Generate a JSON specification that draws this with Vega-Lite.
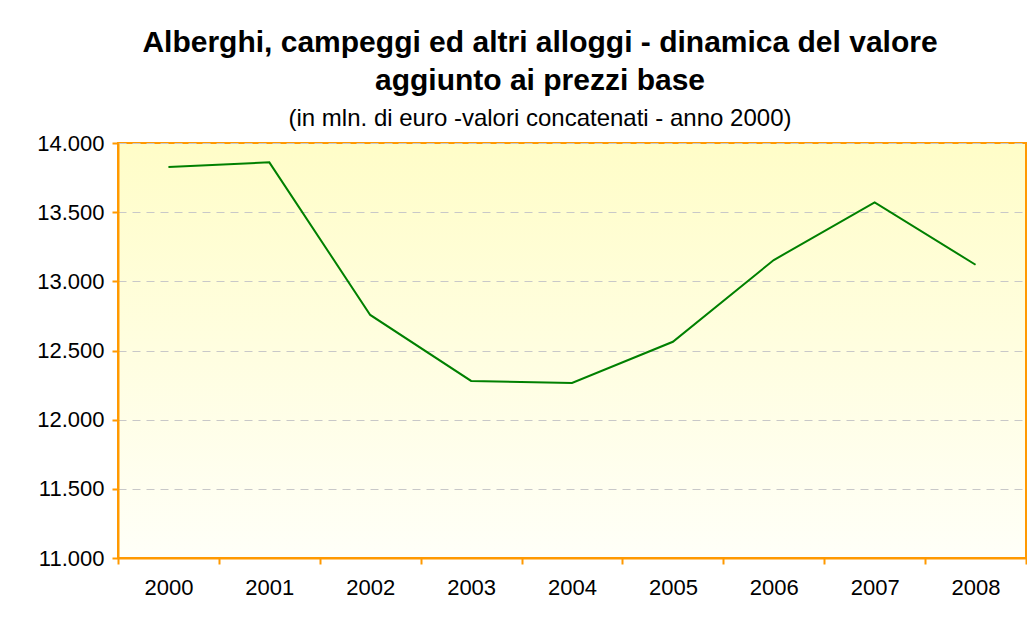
{
  "$schema": "https://vega.github.io/schema/vega-lite/v6.json",
  "autosize": {"type": "none"},
  "width": 908,
  "height": 415,
  "padding": {"left": 118, "top": 143, "right": 1, "bottom": 69},
  "background": "white",
  "config": {
    "locale": {"number": {"decimal": ",", "thousands": ".", "grouping": [3], "currency": ["€", ""]}},
    "view": {
      "fill": {"gradient": "linear", "x1": 0, "y1": 0, "x2": 0, "y2": 1, "stops": [{"offset": 0, "color": "#FFFDC8"}, {"offset": 1, "color": "#FFFFF8"}]},
      "stroke": "#FF9900",
      "strokeWidth": 2
    },
    "font": "Liberation Sans"
  },
  "title": {
    "text": ["Alberghi, campeggi ed altri alloggi  - dinamica del valore", "aggiunto ai prezzi base"],
    "subtitle": "(in mln. di euro -valori concatenati - anno 2000)",
    "anchor": "middle",
    "dx": -32,
    "fontSize": 30,
    "fontWeight": "bold",
    "lineHeight": 38,
    "color": "black",
    "subtitleFontSize": 24,
    "subtitleColor": "black",
    "subtitlePadding": 11,
    "offset": 1
  },
  "data": {
    "values": [
      {"anno": "2000", "valore": 13827},
      {"anno": "2001", "valore": 13860},
      {"anno": "2002", "valore": 12757},
      {"anno": "2003", "valore": 12280},
      {"anno": "2004", "valore": 12265},
      {"anno": "2005", "valore": 12563},
      {"anno": "2006", "valore": 13154},
      {"anno": "2007", "valore": 13570},
      {"anno": "2008", "valore": 13120}
    ]
  },
  "mark": {"type": "line", "color": "#008000", "strokeWidth": 2},
  "encoding": {
    "x": {
      "field": "anno",
      "type": "ordinal",
      "scale": {"type": "band", "paddingInner": 0, "paddingOuter": 0},
      "axis": {
        "title": null,
        "labelAngle": 0,
        "tickBand": "extent",
        "labelFontSize": 22,
        "labelColor": "black",
        "labelPadding": 13,
        "tickSize": 6,
        "tickColor": "#FF9900",
        "tickWidth": 2,
        "domainColor": "#FF9900",
        "domainWidth": 2,
        "grid": false
      }
    },
    "y": {
      "field": "valore",
      "type": "quantitative",
      "scale": {"domain": [11000, 14000], "zero": false},
      "axis": {
        "title": null,
        "values": [11000, 11500, 12000, 12500, 13000, 13500, 14000],
        "format": ",d",
        "labelFontSize": 22,
        "labelColor": "black",
        "labelPadding": 8,
        "tickSize": 6,
        "tickColor": "#FF9900",
        "tickWidth": 2,
        "domainColor": "#FF9900",
        "domainWidth": 2,
        "grid": true,
        "gridColor": "#C8C8C8",
        "gridDash": [8, 6],
        "gridWidth": 1
      }
    }
  }
}
